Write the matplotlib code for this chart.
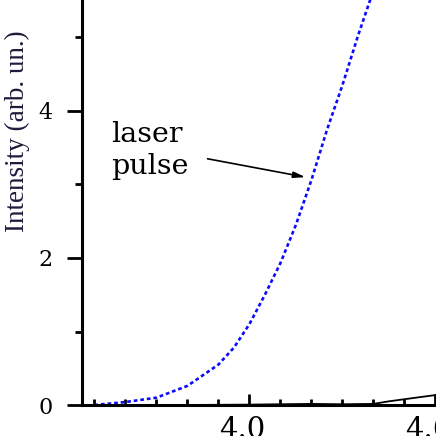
import matplotlib
matplotlib.use("Agg")
import matplotlib.pyplot as plt
from matplotlib.ticker import MultipleLocator, FixedLocator
from matplotlib.transforms import ScaledTranslation

# laser pulse spectrum (blue dotted)
pulse_x = [3.50, 3.60, 3.70, 3.80, 3.90, 3.95, 4.00, 4.05, 4.10, 4.15,
           4.20, 4.25, 4.30, 4.35, 4.40, 4.45]
pulse_y = [0.00, 0.04, 0.10, 0.26, 0.55, 0.78, 1.10, 1.50, 1.93, 2.45,
           3.06, 3.74, 4.35, 5.02, 5.64, 6.25]

# signal near zero (black)
signal_x = [3.46, 3.80, 4.00, 4.20, 4.30, 4.40, 4.45, 4.52, 4.60, 4.65]
signal_y = [0.00, 0.00, 0.005, 0.015, 0.01, 0.015, 0.05, 0.09, 0.135, 0.16]

x_major = [4.0, 4.6]
x_labels = ["4.0", "4.6"]
y_major = [0, 2, 4]

W = H = 436
fig = plt.figure(figsize=(W / 100, H / 100), dpi=100)
# axes run past the top/right edge: the reference is a crop of a bigger figure
px_x, px_y = 310, 73.5
xlim = (3.46, 4.75)
ylim = (0, 6.5)
ax_w = (xlim[1] - xlim[0]) * px_x
ax_h = (ylim[1] - ylim[0]) * px_y
ax = fig.add_axes([82 / W, 31 / H, ax_w / W, ax_h / H])
ax.set_xlim(*xlim)
ax.set_ylim(*ylim)

ax.plot(pulse_x, pulse_y, color="#0a0aff", lw=1.9, ls=(0, (1.4, 1.1)))
ax.plot(signal_x, signal_y, color="black", lw=1.3)

for s in ("top", "right"):
    ax.spines[s].set_visible(False)
for s in ("left", "bottom"):
    ax.spines[s].set_linewidth(2.2)

ax.xaxis.set_major_locator(FixedLocator(x_major))
ax.set_xticklabels(x_labels)
ax.xaxis.set_minor_locator(MultipleLocator(0.1))
ax.yaxis.set_major_locator(FixedLocator(y_major))
ax.yaxis.set_minor_locator(MultipleLocator(1))

ax.tick_params(axis="x", which="major", direction="in", length=8, width=2, pad=8)
ax.tick_params(axis="x", which="minor", direction="in", length=4.5, width=2)
ax.tick_params(axis="y", which="major", direction="out", length=11, width=2, pad=10)
ax.tick_params(axis="y", which="minor", direction="out", length=5, width=2)

for lab in ax.get_xticklabels():
    lab.set_fontfamily("DejaVu Serif")
    lab.set_fontsize(21)
    lab.set_transform(lab.get_transform() + ScaledTranslation(-7.5 / 100, 0, fig.dpi_scale_trans))
for lab in ax.get_yticklabels():
    lab.set_fontfamily("DejaVu Serif")
    lab.set_fontsize(16)

ax.set_ylabel("Intensity (arb. un.)", family="Liberation Serif", fontsize=19.5,
              color="#1c1c3c")
ax.yaxis.set_label_coords((30 - 82) / ax_w, (405 - 131) / ax_h)

ax.text(3.555, 3.86, "laser\npulse", family="DejaVu Serif", fontsize=20.5,
        va="top", ha="left", linespacing=1.22)
ax.annotate("", xy=(4.181, 3.10), xytext=(3.865, 3.35),
            arrowprops=dict(arrowstyle="-|>,head_length=0.7,head_width=0.18",
                            color="black", lw=1.2, shrinkA=0, shrinkB=0))

fig.savefig("out.png", dpi=100)
